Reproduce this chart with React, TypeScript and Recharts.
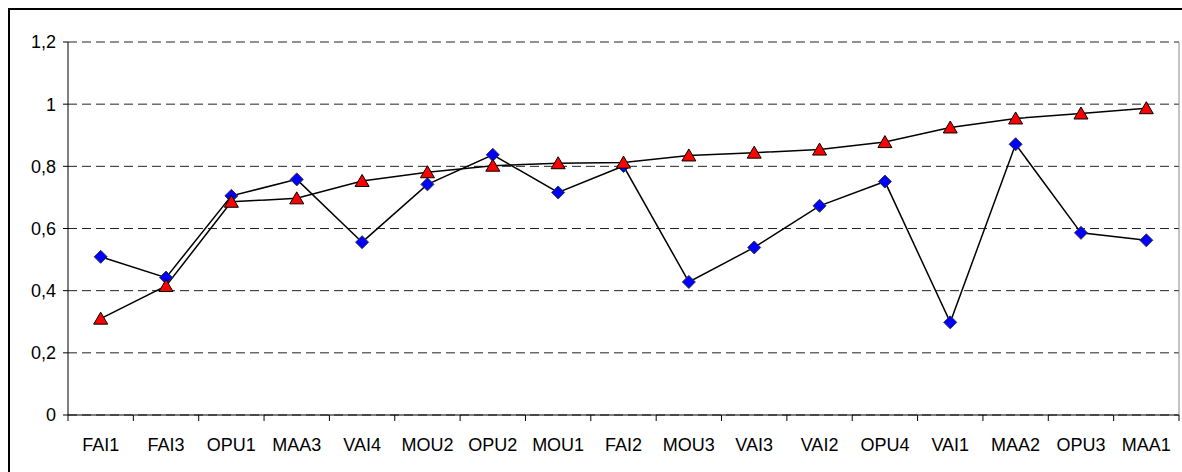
import { CartesianGrid, Line, LineChart, XAxis, YAxis } from "recharts";

const categories = [
  "FAI1", "FAI3", "OPU1", "MAA3", "VAI4", "MOU2", "OPU2", "MOU1", "FAI2",
  "MOU3", "VAI3", "VAI2", "OPU4", "VAI1", "MAA2", "OPU3", "MAA1"
];
const blueValues = [
  0.509, 0.442, 0.705, 0.758, 0.556, 0.742, 0.837, 0.716, 0.801,
  0.428, 0.539, 0.673, 0.751, 0.298, 0.871, 0.586, 0.562
];
const redValues = [
  0.31, 0.415, 0.686, 0.697, 0.753, 0.781, 0.802, 0.81, 0.812,
  0.835, 0.844, 0.854, 0.878, 0.925, 0.954, 0.97, 0.987
];
const yTicks = [0, 0.2, 0.4, 0.6, 0.8, 1, 1.2];

const data = categories.map((name, i) => ({ name, blue: blueValues[i], red: redValues[i] }));

const CHART_W = 1172;
const CHART_H = 454;
const PLOT_H = 373;
const MARGIN = { top: 32, right: 3, bottom: 0, left: 0 };
const Y_AXIS_W = 58;
const PLOT_W = CHART_W - MARGIN.left - MARGIN.right - Y_AXIS_W;
const HALF_BAND = PLOT_W / categories.length / 2;
const FONT = "'Liberation Sans', Arial, sans-serif";

function Diamond({ cx, cy }: any) {
  if (cx == null || cy == null) return null;
  const r = 6.5;
  return (
    <path
      d={`M${cx},${cy - r} L${cx + r},${cy} L${cx},${cy + r} L${cx - r},${cy} Z`}
      fill="#0000ff"
      stroke="#333"
      strokeWidth={1}
    />
  );
}

function Triangle({ cx, cy }: any) {
  if (cx == null || cy == null) return null;
  return (
    <path
      d={`M${cx},${cy - 6.5} L${cx + 7},${cy + 5.5} L${cx - 7},${cy + 5.5} Z`}
      fill="#ff0000"
      stroke="#000"
      strokeWidth={1}
    />
  );
}

// labels sit in the band centre, tick marks on the band edges (Excel style)
function CategoryTick({ x, y, payload, index }: any) {
  const last = index === categories.length - 1;
  const right = x + HALF_BAND;
  return (
    <g>
      <line x1={x - HALF_BAND} x2={x - HALF_BAND} y1={y} y2={y + 6} stroke="#000" />
      {last && <line x1={right} x2={right} y1={y} y2={y + 6} stroke="#000" />}
      {last && <line x1={right} x2={right} y1={y - PLOT_H} y2={y} stroke="#888" />}
      <text x={x} y={y + 36} textAnchor="middle" fontSize={18} fontFamily={FONT} fill="#000">
        {payload.value}
      </text>
    </g>
  );
}

export default function App() {
  return (
    <div
      style={{
        position: "fixed",
        left: 8,
        top: 8,
        width: 1174,
        height: 464,
        borderTop: "2px solid #000",
        borderLeft: "2px solid #000",
        boxSizing: "border-box",
        background: "#fff",
        overflow: "hidden"
      }}
    >
      <style>{"html, body { overflow: hidden; }"}</style>
      <LineChart width={CHART_W} height={CHART_H} data={data} margin={MARGIN}>
        <CartesianGrid stroke="#222" strokeDasharray="9 5" vertical={false} />
        <XAxis
          dataKey="name"
          scale="band"
          axisLine={{ stroke: "#000" }}
          tickLine={false}
          tickSize={0}
          tickMargin={0}
          height={CHART_H - MARGIN.top - PLOT_H}
          interval={0}
          tick={<CategoryTick />}
        />
        <YAxis
          domain={[0, 1.2]}
          ticks={yTicks}
          width={Y_AXIS_W}
          axisLine={{ stroke: "#000" }}
          tickLine={{ stroke: "#000" }}
          tickSize={5}
          tickMargin={7}
          tick={{ fill: "#000", fontSize: 18, fontFamily: FONT }}
          tickFormatter={(v) => String(v).replace(".", ",")}
        />
        <Line
          dataKey="blue"
          type="linear"
          stroke="#000"
          strokeWidth={1.5}
          dot={<Diamond />}
          activeDot={false}
          isAnimationActive={false}
        />
        <Line
          dataKey="red"
          type="linear"
          stroke="#000"
          strokeWidth={1.5}
          dot={<Triangle />}
          activeDot={false}
          isAnimationActive={false}
        />
      </LineChart>
    </div>
  );
}
